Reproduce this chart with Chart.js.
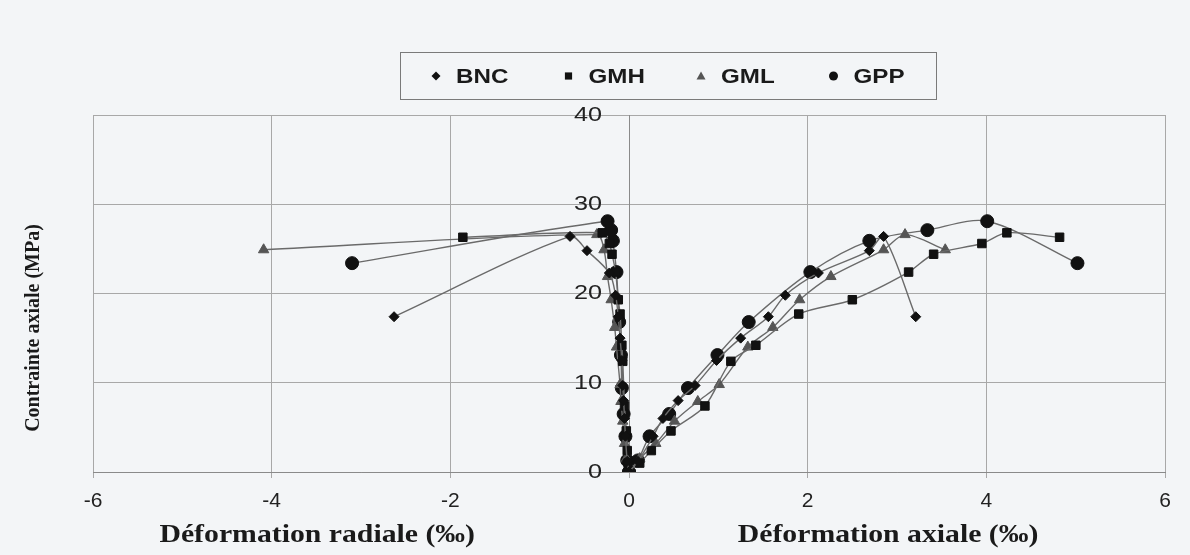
<!DOCTYPE html>
<html lang="fr">
<head>
<meta charset="utf-8">
<title>Contrainte axiale - déformations</title>
<script src="https://cdn.jsdelivr.net/npm/chart.js"></script>
<style>
  html, body { margin: 0; padding: 0; background: #f3f5f7; }
  #wrap { width: 1190px; height: 555px; }
</style>
</head>
<body>
<div id="wrap"><canvas id="chart" width="1190" height="555"></canvas></div>
<script>
// #region Données
const specimens = ["BNC", "GMH", "GML", "GPP"];

// contrainte axiale (MPa) à chaque palier, déformation axiale (‰) et radiale (‰)
const stressBNC = [0, 1.2, 4.0, 6.0, 8.0, 9.7, 12.5, 15.0, 17.4, 19.8, 22.3, 24.8, 26.4, 17.4];
const axialBNC  = [0, 0.10, 0.27, 0.38, 0.55, 0.74, 0.98, 1.25, 1.56, 1.75, 2.12, 2.69, 2.85, 3.21];
const radialBNC = [0, -0.02, -0.04, -0.05, -0.06, -0.07, -0.08, -0.10, -0.12, -0.15, -0.22, -0.47, -0.66, -2.63];

const stressGMH = [0, 1.0, 2.4, 4.6, 7.4, 12.4, 14.2, 17.7, 19.3, 22.4, 24.4, 25.6, 26.8, 26.3];
const axialGMH  = [0, 0.12, 0.25, 0.47, 0.85, 1.14, 1.42, 1.90, 2.50, 3.13, 3.41, 3.95, 4.23, 4.82];
const radialGMH = [0, -0.01, -0.02, -0.03, -0.05, -0.07, -0.08, -0.10, -0.12, -0.15, -0.19, -0.22, -0.30, -1.86];

const stressGML = [0, 1.5, 3.2, 5.7, 7.9, 9.8, 14.0, 16.2, 19.3, 21.9, 24.9, 26.6, 24.9];
const axialGML  = [0, 0.12, 0.30, 0.51, 0.77, 1.01, 1.33, 1.61, 1.91, 2.26, 2.85, 3.09, 3.54];
const radialGML = [0, -0.03, -0.05, -0.07, -0.09, -0.10, -0.14, -0.16, -0.20, -0.24, -0.28, -0.36, -4.09];

const stressGPP = [0, 1.3, 4.0, 6.5, 9.4, 13.1, 16.8, 22.4, 25.9, 27.1, 28.1, 23.4];
const axialGPP  = [0, 0.10, 0.23, 0.45, 0.66, 0.99, 1.34, 2.03, 2.69, 3.34, 4.01, 5.02];
const radialGPP = [0, -0.02, -0.04, -0.06, -0.08, -0.09, -0.11, -0.14, -0.18, -0.20, -0.24, -3.10];

const xTicks = [-6, -4, -2, 0, 2, 4, 6];
const yTicks = [0, 10, 20, 30, 40];
// #endregion

const stress = [stressBNC, stressGMH, stressGML, stressGPP];
const axial = [axialBNC, axialGMH, axialGML, axialGPP];
const radial = [radialBNC, radialGMH, radialGML, radialGPP];

const markers = ["rectRot", "rect", "triangle", "circle"];
const markerSize = [5, 6, 6, 6.5];
const markerColor = ["#111", "#111", "#555", "#111"];
const lineColor = "#6a6a6a";
const textColor = "#1a1a1a";
const sansFont = "'Liberation Sans', Arial, sans-serif";
const serifFont = "'Liberation Serif', 'Times New Roman', serif";

function toPoints(xs, ys) {
    return xs.map((x, i) => ({x: x, y: ys[i]}));
}

let datasets = [];
specimens.forEach((name, i) => {
    const common = {
        showLine: true,
        borderColor: lineColor,
        borderWidth: 1.4,
        tension: 0.3,
        pointStyle: markers[i],
        pointRadius: markerSize[i],
        pointBackgroundColor: markerColor[i],
        pointBorderColor: markerColor[i],
        pointBorderWidth: 1,
        fill: false
    };
    datasets.push(Object.assign({label: name, data: toPoints(axial[i], stress[i])}, common));
    datasets.push(Object.assign({label: name + " radiale", data: toPoints(radial[i], stress[i])}, common));
});

function drawMarker(ctx, style, x, y, r) {
    ctx.beginPath();
    if (style === "rectRot") {
        ctx.moveTo(x, y - r); ctx.lineTo(x + r, y); ctx.lineTo(x, y + r); ctx.lineTo(x - r, y);
    } else if (style === "rect") {
        ctx.rect(x - r * 0.8, y - r * 0.8, r * 1.6, r * 1.6);
    } else if (style === "triangle") {
        ctx.moveTo(x, y - r); ctx.lineTo(x + r, y + r * 0.75); ctx.lineTo(x - r, y + r * 0.75);
    } else {
        ctx.arc(x, y, r, 0, Math.PI * 2);
    }
    ctx.closePath();
    ctx.fill();
}

// texte étiré horizontalement (le scan d'origine est élargi)
function stretchedText(ctx, text, x, y, sx, align) {
    ctx.save();
    ctx.translate(x, y);
    ctx.scale(sx, 1);
    ctx.textAlign = align;
    ctx.fillText(text, 0, 0);
    ctx.restore();
}

// légende encadrée, graduations de l'axe vertical (à x = 0) et titres des axes
const decorPlugin = {
    id: "decor",
    afterDraw(chart) {
        const ctx = chart.ctx;
        const xs = chart.scales.x;
        const ys = chart.scales.y;
        ctx.save();
        ctx.textBaseline = "middle";

        // légende
        ctx.strokeStyle = "#7a7a7a";
        ctx.lineWidth = 1;
        ctx.strokeRect(400.5, 52.5, 536, 47);
        ctx.font = "bold 21px " + sansFont;
        specimens.forEach((name, i) => {
            const mx = 436 + i * 132.5;
            ctx.fillStyle = markerColor[i];
            drawMarker(ctx, markers[i], mx, 76, 4.5);
            ctx.fillStyle = textColor;
            stretchedText(ctx, name, mx + 20, 77, 1.15, "left");
        });

        // valeurs de l'axe vertical, à gauche de x = 0
        ctx.fillStyle = "#222";
        ctx.font = "21px " + sansFont;
        const x0 = xs.getPixelForValue(0);
        ys.ticks.forEach(t => {
            stretchedText(ctx, String(t.value), x0 - 27, ys.getPixelForValue(t.value), 1.2, "right");
        });

        // titres
        ctx.fillStyle = textColor;
        ctx.font = "bold 25px " + serifFont;
        stretchedText(ctx, "Déformation radiale (‰)", xs.getPixelForValue(-3.49), 536, 1.19, "center");
        stretchedText(ctx, "Déformation axiale (‰)", xs.getPixelForValue(2.9), 536, 1.19, "center");

        ctx.font = "bold 20px " + serifFont;
        ctx.translate(34, 328);
        ctx.rotate(-Math.PI / 2);
        ctx.textAlign = "center";
        ctx.fillText("Contrainte axiale (MPa)", 0, 0);
        ctx.restore();
    }
};

new Chart(document.getElementById("chart"), {
    type: "scatter",
    data: {datasets: datasets},
    options: {
        responsive: false,
        animation: false,
        layout: {padding: {left: 93, right: 25, top: 115, bottom: 0}},
        plugins: {
            legend: {display: false},
            tooltip: {enabled: false}
        },
        scales: {
            x: {
                type: "linear",
                min: -6,
                max: 6,
                afterBuildTicks: s => { s.ticks = xTicks.map(v => ({value: v})); },
                afterFit: s => { s.height = 83; },
                ticks: {font: {family: sansFont, size: 21}, color: "#222", padding: 11},
                grid: {color: "#a8a8a8", lineWidth: 1, tickLength: 6},
                border: {color: "#8a8a8a"}
            },
            y: {
                type: "linear",
                position: {x: 0},
                min: 0,
                max: 40,
                afterBuildTicks: s => { s.ticks = yTicks.map(v => ({value: v})); },
                ticks: {display: false},
                grid: {color: "#a8a8a8", lineWidth: 1, drawTicks: false},
                border: {color: "#8a8a8a"}
            }
        }
    },
    plugins: [decorPlugin]
});
</script>
</body>
</html>
